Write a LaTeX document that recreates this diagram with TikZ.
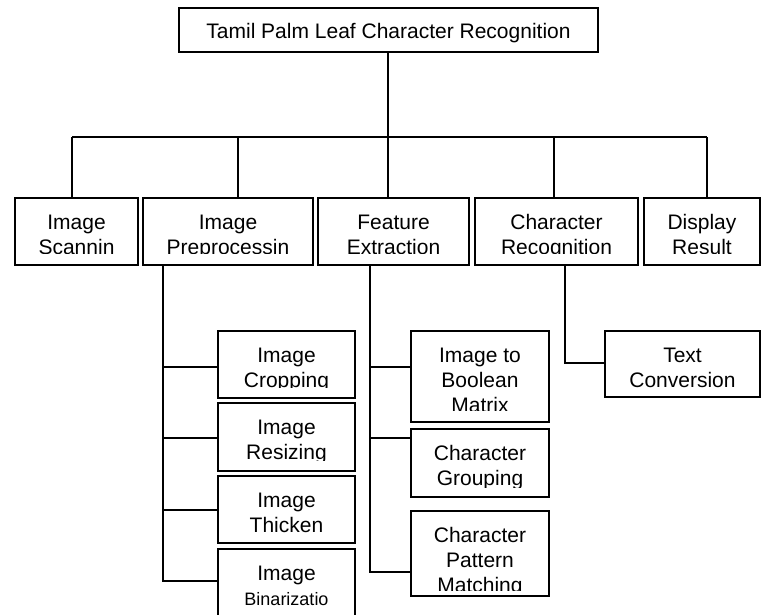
\documentclass[tikz,border=0pt]{standalone}
\usepackage{fontspec}
\setmainfont{Liberation Sans}
\newcommand\bx[7]{%
 \node[bxs, minimum width={(#4)-(#2)}, minimum height={(#5)-(#3)}, anchor=north west] (#1) at (#2,#3) {};
 \begin{scope}
 \clip (#2,#3) rectangle (#4,#6);
 \node[txt] (#1-t) at ({((#2)+(#4))/2},{(#3)+31}) {\begin{tabular}[t]{@{}c@{}}#7\end{tabular}};
 \end{scope}}
\begin{document}
\begin{tikzpicture}[x=1pt,y=-1pt,
  bxs/.style={draw=black, line width=1.5pt, inner sep=0pt, outer sep=0pt, fill=white},
  txt/.style={anchor=base, inner sep=0pt, outer sep=0pt, font=\fontsize{21}{25}\selectfont},
  conn/.style={draw=black, line width=1.5pt}]
\useasboundingbox (0,0) rectangle (765,615);
\fill[white] (0,0) rectangle (765,615);
% level 0
\bx{top}{179}{8}{598}{52}{52}{Tamil Palm Leaf Character Recognition}
% level 1
\bx{scan}{15}{198}{138}{265}{253}{Image\\Scannin}
\bx{prep}{143}{198}{313}{265}{253}{Image\\Preprocessin}
\bx{feat}{318}{198}{469}{265}{253}{Feature\\Extraction}
\bx{crec}{475}{198}{638}{265}{253}{Character\\Recognition}
\bx{disp}{644}{198}{760}{265}{253}{Display\\Result}
% level 2, preprocessing
\bx{crop}{218}{331}{355}{398}{387}{Image\\Cropping}
\bx{resz}{218}{403}{355}{471}{460}{Image\\Resizing}
\bx{thick}{218}{476}{355}{543}{535}{Image\\Thicken}
\bx{bin}{218}{549}{355}{625}{625}{Image\\{\fontsize{18}{22}\selectfont Binarizatio}}
% level 2, features
\bx{bool}{411}{331}{549}{422}{410}{Image to\\Boolean\\Matrix}
\bx{grp}{411}{429}{549}{497}{487}{Character\\Grouping}
\bx{pat}{411}{511}{549}{596}{590}{Character\\Pattern\\Matching}
% level 2, recognition
\bx{tc}{605}{331}{760}{397}{387}{Text\\Conversion}
% connectors
\coordinate (j0) at (388,137);
\coordinate (bl) at (72,137);
\coordinate (br) at (707,137);
\coordinate (b2) at (238,137);
\coordinate (b4) at (554,137);
\coordinate (pv) at (163,0);
\coordinate (fv) at (370,0);
\coordinate (cv) at (565,0);
\draw[conn] (j0 |- top.south) -- (j0);
\draw[conn] (bl) -- (br);
\draw[conn] (bl) -- (bl |- scan.north);
\draw[conn] (b2) -- (b2 |- prep.north);
\draw[conn] (j0) -- (j0 |- feat.north);
\draw[conn] (b4) -- (b4 |- crec.north);
\draw[conn] (br) -- (br |- disp.north);
% preprocessing branch
\draw[conn] (pv |- prep.south) |- (bin.west |- 0,581);
\draw[conn] (pv |- 0,367) -- (crop.west |- 0,367);
\draw[conn] (pv |- 0,438) -- (resz.west |- 0,438);
\draw[conn] (pv |- 0,510) -- (thick.west |- 0,510);
% feature branch
\draw[conn] (fv |- feat.south) |- (pat.west |- 0,572);
\draw[conn] (fv |- 0,367) -- (bool.west |- 0,367);
\draw[conn] (fv |- 0,438) -- (grp.west |- 0,438);
% recognition branch
\draw[conn] (cv |- crec.south) |- (tc.west |- 0,363);
\end{tikzpicture}
\end{document}
